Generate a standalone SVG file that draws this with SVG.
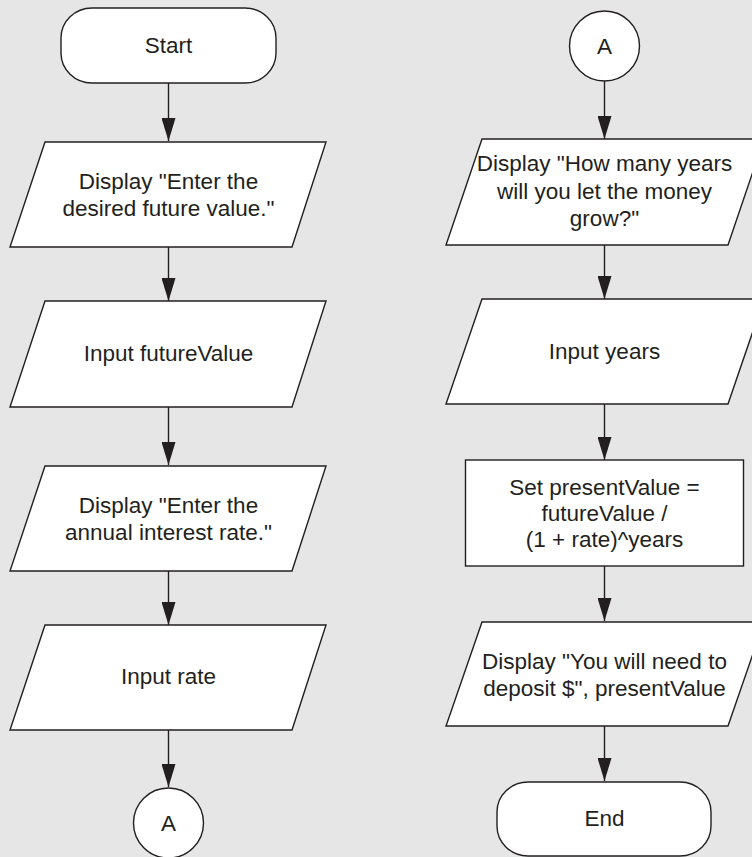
<svg xmlns="http://www.w3.org/2000/svg" width="752" height="857" viewBox="0 0 752 857">
<defs>
<style>
.shape{fill:#ffffff;stroke:#231f20;stroke-width:1.4}
.lbl{font-family:"Liberation Sans",Arial,Helvetica,sans-serif;font-size:22.5px;fill:#231f20;text-anchor:middle}
.conn{stroke:#231f20;stroke-width:1.4;fill:none;marker-end:url(#arrow)}
</style>
<marker id="arrow" markerUnits="userSpaceOnUse" markerWidth="23" markerHeight="14" viewBox="0 0 23 14" refX="23" refY="7" orient="auto">
<path d="M0,0 L23,7 L0,14 Z" fill="#231f20"/>
</marker>
</defs>
<rect x="0" y="0" width="752" height="857" fill="#e6e6e6"/>

<g id="connectors">
<line class="conn" x1="168.5" y1="83" x2="168.5" y2="141"/>
<line class="conn" x1="168.5" y1="247" x2="168.5" y2="301"/>
<line class="conn" x1="168.5" y1="407" x2="168.5" y2="465"/>
<line class="conn" x1="168.5" y1="571" x2="168.5" y2="625"/>
<line class="conn" x1="168.5" y1="730" x2="168.5" y2="787"/>
<line class="conn" x1="604.5" y1="81" x2="604.5" y2="139"/>
<line class="conn" x1="604.5" y1="245" x2="604.5" y2="299"/>
<line class="conn" x1="604.5" y1="404" x2="604.5" y2="460"/>
<line class="conn" x1="604.5" y1="566" x2="604.5" y2="621"/>
<line class="conn" x1="604.5" y1="726" x2="604.5" y2="781"/>
</g>

<g id="start">
<rect class="shape" x="61" y="8" width="215" height="75" rx="31" ry="30"/>
<text class="lbl" x="168.5" y="53">Start</text>
</g>

<g id="display-future">
<polygon class="shape" points="45,142 326,142 292,247 10,247"/>
<text class="lbl" x="168.5" y="189">Display "Enter the</text>
<text class="lbl" x="168.5" y="216">desired future value."</text>
</g>

<g id="input-future">
<polygon class="shape" points="45,301 326,301 292,407 10,407"/>
<text class="lbl" x="168.5" y="361">Input futureValue</text>
</g>

<g id="display-rate">
<polygon class="shape" points="45,466 326,466 292,571 10,571"/>
<text class="lbl" x="168.5" y="512.5">Display "Enter the</text>
<text class="lbl" x="168.5" y="539.5">annual interest rate."</text>
</g>

<g id="input-rate">
<polygon class="shape" points="45,625 326,625 292,730 10,730"/>
<text class="lbl" x="168.5" y="683.5">Input rate</text>
</g>

<g id="connector-a-out">
<circle class="shape" cx="168.5" cy="823" r="35"/>
<text class="lbl" x="168.5" y="830.5">A</text>
</g>

<g id="connector-a-in">
<circle class="shape" cx="604.5" cy="46" r="35"/>
<text class="lbl" x="604.5" y="54">A</text>
</g>

<g id="display-years">
<polygon class="shape" points="482,139 764,139 728,245 446,245"/>
<text class="lbl" x="604.5" y="171">Display "How many years</text>
<text class="lbl" x="604.5" y="198.5">will you let the money</text>
<text class="lbl" x="604.5" y="225.5">grow?"</text>
</g>

<g id="input-years">
<polygon class="shape" points="482,299 764,299 728,404 446,404"/>
<text class="lbl" x="604.5" y="359">Input years</text>
</g>

<g id="set-present">
<rect class="shape" x="465.5" y="460" width="278" height="106"/>
<text class="lbl" x="604.5" y="494.5">Set presentValue =</text>
<text class="lbl" x="604.5" y="521">futureValue /</text>
<text class="lbl" x="604.5" y="547">(1 + rate)^years</text>
</g>

<g id="display-present">
<polygon class="shape" points="482,622 764,622 728,726 446,726"/>
<text class="lbl" x="604.5" y="668.5">Display "You will need to</text>
<text class="lbl" x="604.5" y="695.5">deposit $", presentValue</text>
</g>

<g id="end">
<rect class="shape" x="497" y="782" width="214" height="74" rx="31" ry="30"/>
<text class="lbl" x="604.5" y="826">End</text>
</g>
</svg>
